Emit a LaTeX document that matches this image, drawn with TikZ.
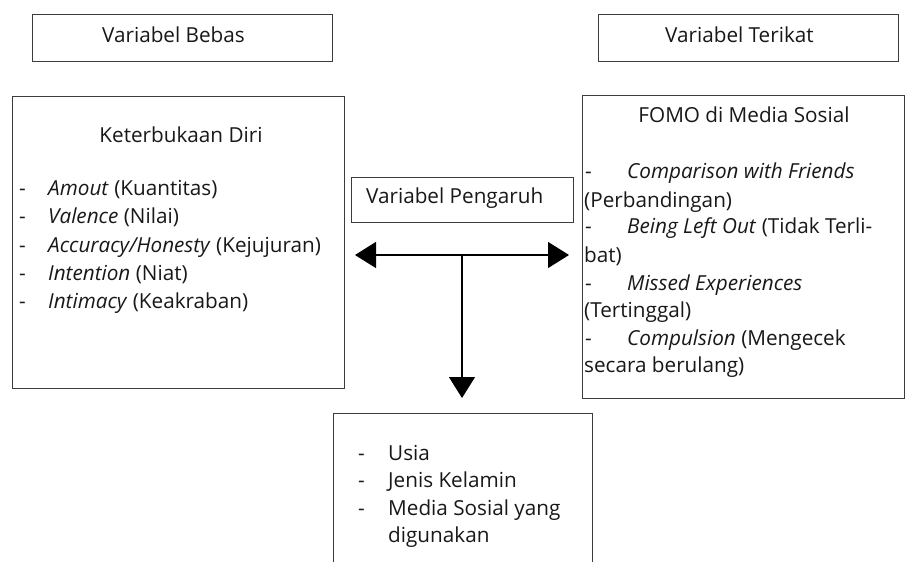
\documentclass[tikz,border=0pt]{standalone}
\usepackage{fontspec}
\setmainfont{Open Sans}
\usetikzlibrary{arrows.meta}
\definecolor{boxgray}{HTML}{3C3C3C}
\definecolor{textblack}{HTML}{1A1718}
\begin{document}
\begin{tikzpicture}[x=1pt,y=-1pt,
  box/.style={draw=boxgray, line width=1pt, inner sep=0pt},
  txt/.style={inner sep=0pt, text height=14.8pt, text depth=4.8pt, font=\fontsize{20.7}{28}\selectfont, text=textblack},
  arr/.style={line width=1.3pt, -{Triangle[length=21pt,width=26pt]}}]
\useasboundingbox (0,0) rectangle (905,562);
% top labels
\node[box, minimum width=300pt, minimum height=47pt] (bebas) at (182,37.5) {};
\node[txt, anchor=west] (bebast) at (102,37) {Variabel Bebas};
\node[box, minimum width=300pt, minimum height=47pt] (terikat) at (748,37.5) {};
\node[txt, anchor=west] (terikatt) at (665,37) {Variabel Terikat};
% left box
\node[box, minimum width=332pt, minimum height=292pt] (kd) at (178,242) {};
\node[txt] (kdt) at (181,137) {Keterbukaan Diri};
\foreach \y/\t [count=\i] in {190/{\textit{Amout} (Kuantitas)},218/{\textit{Valence} (Nilai)},247/{\textit{Accuracy/Honesty} (Kejujuran)},275/{\textit{Intention} (Niat)},303/{\textit{Intimacy} (Keakraban)}}{
  \node[txt, anchor=west] (kdd\i) at (19,\y) {-};
  \node[txt, anchor=west] (kdl\i) at (48,\y) {\t};
}
% right box
\node[box, minimum width=322pt, minimum height=303pt] (fomo) at (743,246.5) {};
\node[txt] (fomot) at (744,117) {FOMO di Media Sosial};
\foreach \y/\t [count=\i] in {173/{\textit{Comparison with Friends}},228/{\textit{Being Left Out} (Tidak Terli-},285/{\textit{Missed Experiences}},340/{\textit{Compulsion} (Mengecek}}{
  \node[txt, anchor=west] (fd\i) at (585,\y) {-};
  \node[txt, anchor=west] (fl\i) at (627,\y) {\t};
}
\foreach \y/\t [count=\i] in {202/{(Perbandingan)},257/{bat)},312/{(Tertinggal)},367/{secara berulang)}}{
  \node[txt, anchor=west] (fc\i) at (584,\y) {\t};
}
% middle
\node[box, minimum width=222pt, minimum height=45pt] (peng) at (462,199.5) {};
\node[txt, anchor=west] (pengt) at (366,198) {Variabel Pengaruh};
\coordinate (j) at (462,255);
\coordinate (lt) at (355,255);
\coordinate (rt) at (569,255);
\coordinate (dt) at (462,398);
\draw[arr] (j) -- (lt);
\draw[arr] (j) -- (rt);
\draw[arr] (j) -- (dt);
% bottom box (cut off)
\draw[draw=boxgray, line width=1pt] (333,562) |- (592,413) -- (592,562);
\foreach \y/\t [count=\i] in {455/{Usia},482/{Jenis Kelamin},510/{Media Sosial yang}}{
  \node[txt, anchor=west] (bd\i) at (358,\y) {-};
  \node[txt, anchor=west] (bl\i) at (388,\y) {\t};
}
\node[txt, anchor=west] (bl4) at (388,537) {digunakan};
\end{tikzpicture}
\end{document}
